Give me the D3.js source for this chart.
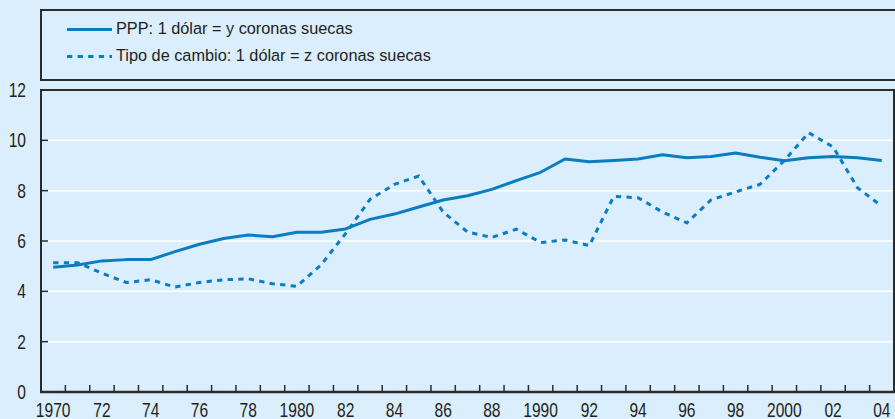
<!DOCTYPE html>
<html>
<head>
<meta charset="utf-8">
<script src="https://cdn.jsdelivr.net/npm/d3@7"></script>
<style>
  body { margin: 0; background: #dbeefd; }
  svg { display: block; }
  text { font-family: "Liberation Sans", Arial, sans-serif; fill: #231f20; }
</style>
</head>
<body>
<svg width="895" height="419"></svg>
<script>
var years = d3.range(1970, 2005);
var ppp = [4.96, 5.05, 5.21, 5.26, 5.26, 5.58, 5.87, 6.10, 6.24, 6.17, 6.35,
           6.35, 6.48, 6.86, 7.07, 7.35, 7.63, 7.80, 8.05, 8.40, 8.73,
           9.26, 9.15, 9.20, 9.26, 9.43, 9.31, 9.36, 9.50, 9.33, 9.19,
           9.31, 9.36, 9.31, 9.20];
var tipo = [5.14, 5.14, 4.72, 4.35, 4.46, 4.17, 4.35, 4.46, 4.50, 4.30, 4.20,
            5.06, 6.30, 7.65, 8.25, 8.58, 7.15, 6.36, 6.14, 6.47, 5.94,
            6.04, 5.82, 7.77, 7.72, 7.15, 6.72, 7.64, 7.95, 8.25, 9.20,
            10.30, 9.74, 8.12, 7.38];
var yTicks = [0, 2, 4, 6, 8, 10, 12];
var xLabels = ["1970", "72", "74", "76", "78", "1980", "82", "84", "86", "88",
               "1990", "92", "94", "96", "98", "2000", "02", "04"];
var legendLabels = ["PPP: 1 dólar = y coronas suecas",
                    "Tipo de cambio: 1 dólar = z coronas suecas"];

var svg = d3.select("svg"),
    margin = {top: 90, right: 1, bottom: 27, left: 41},
    width = +svg.attr("width") - margin.left - margin.right,
    height = +svg.attr("height") - margin.top - margin.bottom,
    g = svg.append("g").attr("transform", "translate(" + margin.left + "," + margin.top + ")");

var blue = "#0a7cc2", dark = "#2b2b2b";
var squeeze = 0.8;

var x = d3.scaleBand().domain(years).range([0, width]);
var y = d3.scaleLinear().domain([0, 12]).range([height, 0]);
var cx = function(yr) { return x(yr) + x.bandwidth() / 2; };

// legend box
var legend = svg.append("g");
legend.append("rect")
    .attr("x", 41).attr("y", 10)
    .attr("width", 860).attr("height", 70)
    .attr("fill", "none").attr("stroke", dark).attr("stroke-width", 2);
legendLabels.forEach(function(lab, i) {
    var ly = 29.5 + i * 27;
    legend.append("line")
        .attr("x1", 67).attr("x2", 112).attr("y1", ly).attr("y2", ly)
        .attr("stroke", blue).attr("stroke-width", 3)
        .attr("stroke-dasharray", i ? "5.3,5.3" : null);
    legend.append("text")
        .attr("x", 116).attr("y", ly + 4.8)
        .style("font-size", "16.3px")
        .text(lab);
});

// gridlines
g.selectAll(".grid")
    .data(yTicks.filter(function(d) { return d > 0 && d < 12; }))
    .enter().append("line")
    .attr("x1", 0).attr("x2", width)
    .attr("y1", function(d) { return y(d); }).attr("y2", function(d) { return y(d); })
    .attr("stroke", "#fff").attr("stroke-width", 1.5);

// y ticks + labels (condensed look via scaleX)
g.selectAll(".ytick")
    .data(yTicks.filter(function(d) { return d < 12; }))
    .enter().append("line")
    .attr("x1", 0).attr("x2", 7)
    .attr("y1", function(d) { return y(d); }).attr("y2", function(d) { return y(d); })
    .attr("stroke", dark).attr("stroke-width", 1.5);
g.selectAll(".ylabel")
    .data(yTicks)
    .enter().append("text")
    .attr("transform", function(d) { return "translate(-15," + y(d) + ") scale(" + squeeze + ",1)"; })
    .attr("text-anchor", "end")
    .attr("dy", "0.36em")
    .style("font-size", "19.5px")
    .text(function(d) { return d; });

// x axis: ticks between years
var bounds = years.slice(1).map(function(yr) { return x(yr); });
g.selectAll(".xtick")
    .data(bounds)
    .enter().append("line")
    .attr("x1", function(d) { return d; }).attr("x2", function(d) { return d; })
    .attr("y1", height).attr("y2", height - 7)
    .attr("stroke", dark).attr("stroke-width", 1.5);
g.selectAll(".xlabel")
    .data(xLabels)
    .enter().append("text")
    .attr("transform", function(d, i) {
        return "translate(" + cx(1970 + i * 2) + "," + (height + 24.5) + ") scale(" + squeeze + ",1)";
    })
    .attr("text-anchor", "middle")
    .style("font-size", "19.5px")
    .text(function(d) { return d; });

// plot border
g.append("path")
    .attr("d", "M0," + height + "V0H" + width + "V" + height)
    .attr("fill", "none").attr("stroke", dark).attr("stroke-width", 2);
g.append("line")
    .attr("x1", -1).attr("x2", width + 1).attr("y1", height).attr("y2", height)
    .attr("stroke", dark).attr("stroke-width", 2.5);

// series
var line = d3.line()
    .x(function(d, i) { return cx(years[i]); })
    .y(function(d) { return y(d); });

g.append("path").datum(ppp)
    .attr("fill", "none").attr("stroke", blue).attr("stroke-width", 3)
    .attr("stroke-linejoin", "round")
    .attr("d", line);
g.append("path").datum(tipo)
    .attr("fill", "none").attr("stroke", blue).attr("stroke-width", 3)
    .attr("stroke-dasharray", "5.3,5.3")
    .attr("d", line);
</script>
</body>
</html>
